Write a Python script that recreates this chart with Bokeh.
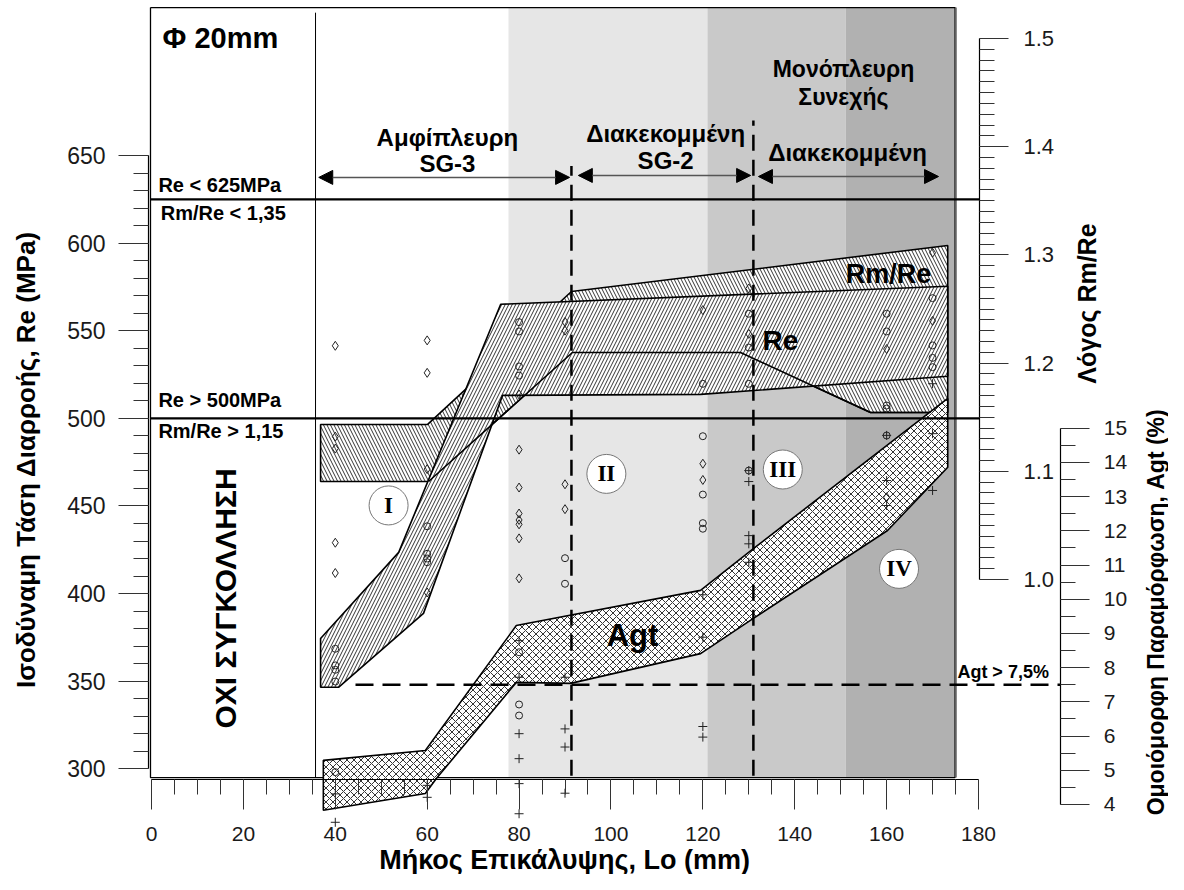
from bokeh.plotting import figure
from bokeh.models import (Range1d, LinearAxis, SingleIntervalTicker, FixedTicker, Arrow, NormalHead,
                          PrintfTickFormatter)
from bokeh.core.properties import value
from bokeh.embed import file_html
from bokeh.resources import INLINE
import math

# ---------------- data ----------------
# Re band (yield stress, MPa) vs lap length Lo (mm)
re_upper_x = [36.8, 53.8, 76.0, 173.3]
re_upper_y = [374.4, 423.5, 565.1, 575.4]
re_lower_x = [36.8, 40.7, 59.2, 76.4, 119.5, 173.3]
re_lower_y = [346.5, 346.5, 388.7, 513.1, 513.7, 524.0]

# Rm/Re band (ratio)
ratio_upper_x = [36.8, 60.1, 91.4, 173.3]
ratio_upper_y = [1.1433, 1.1433, 1.2662, 1.3087]
ratio_lower_x = [36.8, 60.3, 91.6, 128.2, 156.5, 173.3]
ratio_lower_y = [1.0906, 1.0906, 1.2098, 1.2098, 1.1543, 1.1543]

# Agt band (%)
agt_upper_x = [37.4, 59.6, 79.4, 119.5, 131.0, 173.3]
agt_upper_y = [5.29, 5.58, 9.23, 10.26, 11.48, 15.87]
agt_lower_x = [37.4, 59.6, 62.0, 79.4, 91.2, 119.5, 131.0, 160.2, 173.3]
agt_lower_y = [3.83, 4.32, 4.76, 7.57, 7.54, 8.41, 9.44, 12.01, 13.86]

# test points
re_pts_x = [40, 40, 40, 40, 40, 60, 60, 60, 60, 80, 80, 80, 80, 80, 80, 80, 90, 90,
            120, 120, 120, 120, 120, 130, 130, 130, 130, 160, 160, 160, 160, 160,
            170, 170, 170, 170]
re_pts_y = [368.5, 359.0, 356.5, 349.8, 298.1, 438.4, 422.7, 420.0, 417.9,
            554.9, 549.6, 529.6, 524.4, 366.5, 336.7, 330.4, 420.2, 405.6,
            519.7, 489.8, 456.5, 440.2, 437.0, 559.7, 540.4, 519.7, 470.2,
            559.7, 549.6, 507.3, 505.6, 490.2, 568.6, 541.6, 534.5, 529.2]

ratio_pts_x = [40, 40, 40, 40, 40, 60, 60, 60, 60, 80, 80, 80, 80, 80, 80, 80, 80,
               90, 90, 90, 90, 120, 120, 120, 130, 130, 160, 160, 170, 170]
ratio_pts_y = [1.216, 1.132, 1.121, 1.034, 1.006, 1.221, 1.191, 1.102, 0.988,
               1.171, 1.120, 1.085, 1.061, 1.055, 1.051, 1.038, 1.001,
               1.238, 1.230, 1.088, 1.065, 1.249, 1.107, 1.092, 1.269, 1.227,
               1.213, 1.076, 1.302, 1.239]

agt_pts_x = [40, 40, 60, 60, 80, 80, 80, 80, 80, 80, 90, 90, 90, 90,
             120, 120, 120, 120, 130, 130, 130, 130, 130, 160, 160, 160, 170, 170, 170]
agt_pts_y = [4.31, 3.48, 4.56, 4.21, 8.79, 7.72, 6.07, 5.34, 4.61, 3.73,
             7.72, 6.21, 5.68, 4.33, 10.13, 8.89, 6.28, 5.97,
             13.76, 13.44, 11.86, 11.62, 11.08, 14.79, 13.47, 12.74, 16.30, 14.84, 13.18]

# limits / zones / ticks
re_limits = [625, 500]
agt_limit = 7.5
no_weld_edge = 35.7
zone_edges = [77.7, 121.0, 151.1, 175.0]
zone_colors = ["#e6e6e6", "#c9c9c9", "#b1b1b1"]
type_bounds = [91.4, 131.0]
ratio_major_ticks = [1.0, 1.1, 1.2, 1.3, 1.4, 1.5]

# ---------------- figure ----------------
X0, X1 = -32.866, 221.35
Y0, Y1 = 239.68, 738.45
p = figure(width=1168, height=874, x_range=Range1d(X0, X1), y_range=Range1d(Y0, Y1),
           x_axis_type=None, y_axis_type=None, output_backend="svg",
           toolbar_location=None, min_border=0)
p.outline_line_color = None
p.background_fill_color = "white"
p.border_fill_color = "white"
p.extra_y_ranges = {"rm": Range1d(0.72736, 1.53512), "agt": Range1d(1.9538, 27.502)}

FRAME_L, FRAME_R, FRAME_B, FRAME_T = -0.22, 174.9, 295.0, 734.4

# zone shading
p.quad(left=zone_edges[:-1], right=zone_edges[1:], bottom=FRAME_B, top=FRAME_T,
       fill_color=zone_colors, line_color=None)

# frame & no-weld boundary
p.line([FRAME_L, FRAME_R, FRAME_R, FRAME_L, FRAME_L],
       [FRAME_T, FRAME_T, FRAME_B, FRAME_B, FRAME_T], line_color="black", line_width=1.3)
p.line([FRAME_R + 0.25, FRAME_R + 0.25], [FRAME_B, FRAME_T], line_color="#888888", line_width=1.5)
p.line([no_weld_edge, no_weld_edge], [FRAME_B, 731.5], line_color="black", line_width=1)

def band(ux, uy, lx, ly):
    return list(ux) + list(lx)[::-1], list(uy) + list(ly)[::-1]

bx, by = band(ratio_upper_x, ratio_upper_y, ratio_lower_x, ratio_lower_y)
p.patch(bx, by, y_range_name="rm", fill_color="white", hatch_pattern="\\", hatch_scale=7,
        hatch_weight=0.8, hatch_color="black", line_color="black", line_width=1.6)
bx, by = band(re_upper_x, re_upper_y, re_lower_x, re_lower_y)
p.patch(bx, by, fill_color="white", hatch_pattern="/", hatch_scale=7,
        hatch_weight=0.8, hatch_color="black", line_color="black", line_width=1.6)
# lower envelope of the Rm/Re band stays visible through the Re band
p.line(ratio_lower_x[1:], ratio_lower_y[1:], y_range_name="rm", line_color="black", line_width=1.6)
bx, by = band(agt_upper_x, agt_upper_y, agt_lower_x, agt_lower_y)
p.patch(bx, by, y_range_name="agt", fill_color="white", hatch_pattern="x", hatch_scale=7,
        hatch_weight=0.8, hatch_color="black", line_color="black", line_width=1.6)

# limit lines
for lim in re_limits:
    p.line([FRAME_L, 180.2], [lim, lim], line_color="black", line_width=2.2)
p.line([44.4, 197.9], [agt_limit, agt_limit], y_range_name="agt", line_color="black",
       line_width=2.5, line_dash="18 9")
p.line([type_bounds[0], type_bounds[0]], [FRAME_B + 1, 644.0], line_color="black",
       line_width=2.5, line_dash="16 9")
p.line([type_bounds[1], type_bounds[1]], [FRAME_B + 1, 670.0], line_color="black",
       line_width=2.5, line_dash="16 9")

# test points
p.scatter(re_pts_x, re_pts_y, marker="circle", size=7, fill_color=None, line_color="#222222", line_width=1)
p.scatter(ratio_pts_x, ratio_pts_y, marker="diamond", size=9, fill_color=None, line_color="#222222",
          line_width=1, y_range_name="rm")
p.scatter(agt_pts_x, agt_pts_y, marker="cross", size=9, line_color="#222222", line_width=1,
          y_range_name="agt")

# arrows
for xs, xe, yy in [(36.4, 91.0, 637.5), (92.9, 130.4, 638.6), (132.1, 171.3, 638.0)]:
    p.add_layout(Arrow(start=NormalHead(size=14, fill_color="black", line_color="black"),
                       end=NormalHead(size=14, fill_color="black", line_color="black"),
                       x_start=xs, y_start=yy, x_end=xe, y_end=yy,
                       line_color="#555555", line_width=1.5))

F = value("Liberation Sans")

def txt(x, y, s, size, align="center", angle=0.0, bold=True, font=F, color="black"):
    p.text([x], [y], text=[s], text_font=font, text_font_size=size,
           text_font_style="bold" if bold else "normal", text_align=align,
           text_baseline="middle", angle=angle, text_color=color)

txt(2.4, 716.8, "Φ 20mm", "29px", align="left")
txt(1.5, 633.4, "Re < 625MPa", "20px", align="left")
txt(2.0, 617.0, "Rm/Re < 1,35", "20px", align="left")
txt(1.5, 510.7, "Re > 500MPa", "20px", align="left")
txt(1.5, 492.5, "Rm/Re > 1,15", "20px", align="left")
txt(16.1, 397.2, "ΟΧΙ ΣΥΓΚΟΛΛΗΣΗ", "30px", angle=math.pi / 2)
txt(64.4, 660.3, "Αμφίπλευρη", "24px")
txt(64.4, 645.5, "SG-3", "24px")
txt(111.9, 662.6, "Διακεκομμένη", "24px")
txt(111.9, 647.2, "SG-2", "24px")
txt(150.6, 699.6, "Μονόπλευρη", "23px")
txt(150.6, 683.1, "Συνεχής", "23px")
txt(151.5, 651.6, "Διακεκομμένη", "24px")
txt(136.9, 544.4, "Re", "28px")
txt(160.4, 582.6, "Rm/Re", "27px")
txt(104.7, 376.2, "Agt", "31px")
txt(175.4, 355.0, "Agt > 7,5%", "18px", align="left")

# region markers
reg_x = [51.6, 99.0, 137.4, 162.7]
reg_y = [450.3, 468.3, 470.8, 414.1]
reg_t = ["I", "II", "III", "IV"]
p.scatter(reg_x, reg_y, marker="circle", size=39, fill_color="white", line_color="#777777", line_width=1)
p.text(reg_x, reg_y, text=reg_t, text_font=value("Liberation Serif"), text_font_size="23px",
       text_font_style="bold", text_align="center", text_baseline="middle", text_color="black")

# axis titles
txt(-27.4, 476.5, "Ισοδύναμη Τάση Διαρροής, Re (MPa)", "26px", angle=math.pi / 2)
txt(89.9, 247.9, "Μήκος Επικάλυψης, Lo (mm)", "27px")
txt(203.7, 565.5, "Λόγος Rm/Re", "25px", angle=math.pi / 2)
txt(218.6, 389.3, "Ομοιόμορφη Παραμόρφωση, Agt (%)", "23px", angle=math.pi / 2)

# axes
common = dict(major_tick_in=0, minor_tick_in=0, major_tick_out=30, minor_tick_out=15,
              axis_line_color="black", axis_line_width=1.2,
              major_tick_line_color="#333333", minor_tick_line_color="#333333",
              major_label_text_font="Liberation Sans", major_label_text_color="#1a1a1a")

ax_re = LinearAxis(fixed_location=-0.65, bounds=(300, 650),
                   ticker=SingleIntervalTicker(interval=50, num_minor_ticks=5),
                   major_label_standoff=13, major_label_text_font_size="23px", **common)
p.add_layout(ax_re, "left")

ax_lo = LinearAxis(fixed_location=293.9, bounds=(0, 180),
                   ticker=SingleIntervalTicker(interval=20, num_minor_ticks=4),
                   major_label_standoff=18, major_label_text_font_size="21px", **common)
p.add_layout(ax_lo, "below")

ratio_minor_ticks = [round(1.0 + 0.01 * i, 2) for i in range(51)]
ax_rm = LinearAxis(fixed_location=180.2, bounds=(1.0, 1.5), y_range_name="rm",
                   ticker=FixedTicker(ticks=ratio_major_ticks, minor_ticks=ratio_minor_ticks),
                   formatter=PrintfTickFormatter(format="%.1f"),
                   major_label_standoff=15, major_label_text_font_size="22px", **common)
ax_rm.major_tick_out = 29
p.add_layout(ax_rm, "right")

ax_agt = LinearAxis(fixed_location=197.9, bounds=(4, 15), y_range_name="agt",
                    ticker=SingleIntervalTicker(interval=1, num_minor_ticks=2),
                    major_label_standoff=14, major_label_text_font_size="21px", **common)
ax_agt.major_tick_out = 29
p.add_layout(ax_agt, "right")

open("out.html", "w").write(file_html(p, INLINE))
